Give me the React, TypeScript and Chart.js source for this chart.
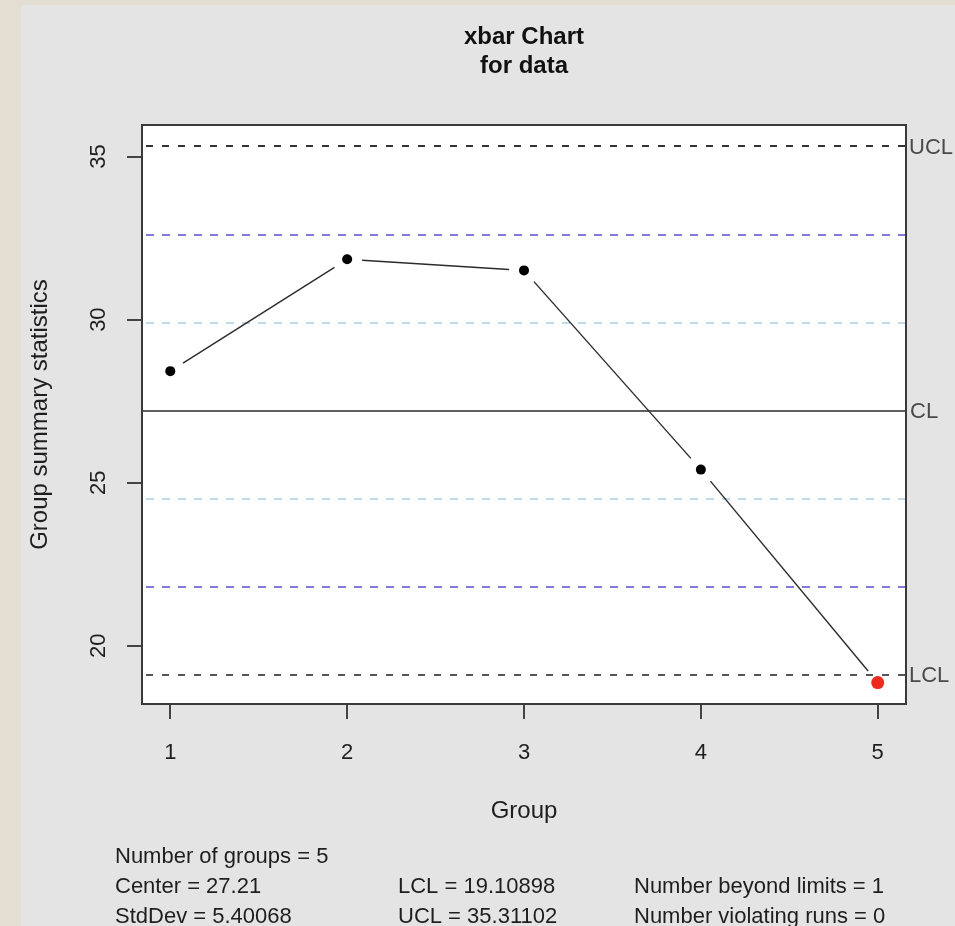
import React, { useEffect, useRef } from "react";
import { Chart, registerables } from "chart.js";

Chart.register(...registerables);

// Group numbers and the subgroup means plotted on the xbar chart
const groups = [1, 2, 3, 4, 5];
const groupMeans = [28.42, 31.85, 31.51, 25.4, 18.87];

// Control limits
const centerLine = 27.21;
const lowerLimit = 19.10898;
const upperLimit = 35.31102;
const stdDev = 5.40068;
// One- and two-sigma zone lines around the center
const oneSigmaLines = [24.51, 29.91];
const twoSigmaLines = [21.81, 32.61];

const yTickValues = [20, 25, 30, 35];
const titleLines = ["xbar Chart", "for data"];
const statsColumns = [
  ["Number of groups = 5", "Center = 27.21", "StdDev = 5.40068"],
  ["", "LCL = 19.10898", "UCL = 35.31102"],
  ["", "Number beyond limits = 1", "Number violating runs = 0"],
];

const FONT = '"Liberation Sans", Arial, Helvetica, sans-serif';

// Axis ranges padded by 4% like the usual statistical plotting default
const xSpan = groups[groups.length - 1] - groups[0];
const xMin = groups[0] - 0.04 * xSpan;
const xMax = groups[groups.length - 1] + 0.04 * xSpan;
const yLow = Math.min(...groupMeans, lowerLimit);
const yHigh = Math.max(...groupMeans, upperLimit);
const yMin = yLow - 0.04 * (yHigh - yLow);
const yMax = yHigh + 0.04 * (yHigh - yLow);

const isOut = (v: number) => v < lowerLimit || v > upperLimit;

const decorPlugin = {
  id: "xbarDecor",
  beforeDraw(chart: any) {
    const { ctx, chartArea: a } = chart;
    ctx.save();
    ctx.fillStyle = "#ffffff";
    ctx.fillRect(a.left, a.top, a.right - a.left, a.bottom - a.top);
    ctx.restore();
  },
  beforeDatasetsDraw(chart: any) {
    const { ctx, chartArea: a, scales } = chart;
    const y = scales.y;
    ctx.save();
    ctx.beginPath();
    ctx.rect(a.left, a.top, a.right - a.left, a.bottom - a.top);
    ctx.clip();
    const hLine = (v: number, color: string, w: number, dash: number[]) => {
      const py = Math.round(y.getPixelForValue(v));
      ctx.beginPath();
      ctx.setLineDash(dash);
      ctx.lineDashOffset = -4;
      ctx.strokeStyle = color;
      ctx.lineWidth = w;
      ctx.moveTo(a.left, py);
      ctx.lineTo(a.right, py);
      ctx.stroke();
    };
    oneSigmaLines.forEach((v) => hLine(v, "#c0dbe7", 2, [8, 8]));
    twoSigmaLines.forEach((v) => hLine(v, "#7c7cdc", 2, [8, 8]));
    hLine(upperLimit, "#333333", 2, [7, 9]);
    hLine(lowerLimit, "#555555", 2, [7, 9]);
    hLine(centerLine, "#2a2a2a", 1.5, []);

    // connecting segments, stopped short of each point
    const pts = chart.getDatasetMeta(0).data;
    ctx.setLineDash([]);
    ctx.strokeStyle = "#2b2b2b";
    ctx.lineWidth = 1.4;
    const gap = 15;
    for (let i = 0; i < pts.length - 1; i++) {
      const p0 = pts[i];
      const p1 = pts[i + 1];
      const dx = p1.x - p0.x;
      const dy = p1.y - p0.y;
      const len = Math.hypot(dx, dy);
      if (len <= 2 * gap) continue;
      const ux = dx / len;
      const uy = dy / len;
      ctx.beginPath();
      ctx.moveTo(p0.x + ux * gap, p0.y + uy * gap);
      ctx.lineTo(p1.x - ux * gap, p1.y - uy * gap);
      ctx.stroke();
    }
    ctx.restore();
  },
  afterDatasetsDraw(chart: any) {
    const { ctx, chartArea: a } = chart;
    ctx.save();
    ctx.strokeStyle = "#3a3a3a";
    ctx.lineWidth = 2;
    ctx.strokeRect(a.left, a.top, a.right - a.left, a.bottom - a.top);
    ctx.restore();
  },
  afterDraw(chart: any) {
    const { ctx, chartArea: a, scales } = chart;
    const x = scales.x;
    const y = scales.y;
    const cx = (a.left + a.right) / 2;
    const cy = (a.top + a.bottom) / 2;
    ctx.save();

    // title
    ctx.fillStyle = "#111";
    ctx.textAlign = "center";
    ctx.textBaseline = "alphabetic";
    ctx.font = `bold 24px ${FONT}`;
    ctx.fillText(titleLines[0], cx, 39);
    ctx.fillText(titleLines[1], cx, 68);

    // x tick labels
    ctx.font = `22px ${FONT}`;
    ctx.fillStyle = "#1e1e1e";
    x.ticks.forEach((t: any) => {
      ctx.fillText(String(t.value), x.getPixelForValue(t.value), 754);
    });

    // y tick labels, rotated
    y.ticks.forEach((t: any) => {
      ctx.save();
      ctx.translate(84, y.getPixelForValue(t.value));
      ctx.rotate(-Math.PI / 2);
      ctx.fillText(String(t.value), 0, 0);
      ctx.restore();
    });

    // axis titles
    ctx.font = `24px ${FONT}`;
    ctx.fillText("Group", cx, 813);
    ctx.save();
    ctx.translate(26, cy);
    ctx.rotate(-Math.PI / 2);
    ctx.fillText("Group summary statistics", 0, 0);
    ctx.restore();

    // limit labels on the right
    ctx.font = `22px ${FONT}`;
    ctx.fillStyle = "#4a4a4a";
    ctx.textAlign = "left";
    ctx.textBaseline = "middle";
    const rx = a.right + 3;
    ctx.fillText("UCL", rx, y.getPixelForValue(upperLimit) + 1);
    ctx.fillText("CL", rx + 1, y.getPixelForValue(centerLine) + 1);
    ctx.fillText("LCL", rx, y.getPixelForValue(lowerLimit) + 1);

    // summary statistics
    ctx.fillStyle = "#1e1e1e";
    ctx.textBaseline = "alphabetic";
    const colX = [94, 377, 613];
    const rowY = [858, 888, 917.5];
    statsColumns.forEach((col, ci) => {
      col.forEach((line, ri) => {
        if (line) ctx.fillText(line, colX[ci], rowY[ri]);
      });
    });
    ctx.restore();
  },
};

export default function App() {
  const canvasRef = useRef<HTMLCanvasElement | null>(null);

  useEffect(() => {
    const canvas = canvasRef.current;
    if (!canvas) return;
    const chart = new Chart(canvas, {
      type: "scatter",
      data: {
        datasets: [
          {
            data: groups.map((g, i) => ({ x: g, y: groupMeans[i] })),
            showLine: false,
            pointRadius: groupMeans.map((v) => (isOut(v) ? 6.5 : 5)),
            pointHoverRadius: groupMeans.map((v) => (isOut(v) ? 6.5 : 5)),
            pointBackgroundColor: groupMeans.map((v) => (isOut(v) ? "#ee2a1c" : "#000000")),
            pointBorderWidth: 0,
          },
        ],
      },
      options: {
        responsive: false,
        animation: false,
        events: [],
        layout: { padding: { left: 101, top: 120, right: 49, bottom: 202 } },
        plugins: {
          legend: { display: false },
          tooltip: { enabled: false },
          title: { display: false },
        },
        scales: {
          x: {
            type: "linear",
            min: xMin,
            max: xMax,
            afterBuildTicks: (s: any) => {
              s.ticks = groups.map((v) => ({ value: v }));
            },
            afterFit: (s: any) => {
              s.height = 20;
            },
            ticks: { display: false },
            border: { display: false },
            grid: {
              display: true,
              drawOnChartArea: false,
              drawTicks: true,
              tickLength: 15,
              color: "#444444",
              lineWidth: 2,
            },
          },
          y: {
            type: "linear",
            min: yMin,
            max: yMax,
            afterBuildTicks: (s: any) => {
              s.ticks = yTickValues.map((v) => ({ value: v }));
            },
            afterFit: (s: any) => {
              s.width = 20;
            },
            ticks: { display: false },
            border: { display: false },
            grid: {
              display: true,
              drawOnChartArea: false,
              drawTicks: true,
              tickLength: 15,
              color: "#444444",
              lineWidth: 2,
            },
          },
        },
      },
      plugins: [decorPlugin],
    });
    return () => chart.destroy();
  }, []);

  return (
    <div
      style={{
        position: "fixed",
        left: 0,
        top: 0,
        width: 955,
        height: 926,
        background: "#e4ddd2",
        overflow: "hidden",
      }}
    >
      <canvas
        ref={canvasRef}
        width={934}
        height={921}
        style={{
          position: "absolute",
          left: 21,
          top: 5,
          width: 934,
          height: 921,
          background: "#e4e4e4",
        }}
      />
    </div>
  );
}
